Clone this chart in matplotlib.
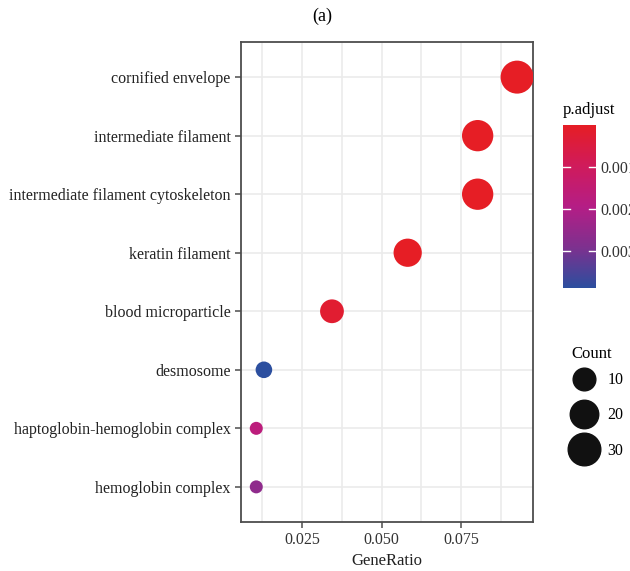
import numpy as np
import matplotlib
matplotlib.use("Agg")
import matplotlib.pyplot as plt
from matplotlib.colors import LinearSegmentedColormap, Normalize
from matplotlib.lines import Line2D

plt.rcParams['font.family'] = ['Liberation Serif', 'DejaVu Serif']

# Datos del dotplot (GO CC)
terminos = ["cornified envelope", "intermediate filament",
            "intermediate filament cytoskeleton", "keratin filament",
            "blood microparticle", "desmosome",
            "haptoglobin-hemoglobin complex", "hemoglobin complex"]
gene_ratio = [0.0926, 0.0802, 0.0802, 0.0582, 0.0344, 0.0130, 0.0106, 0.0106]
conteo = [35, 30, 30, 22, 13, 5, 4, 4]
p_adjust = [1e-7, 1e-6, 1e-6, 1e-5, 0.00022, 0.00388, 0.0017, 0.0026]

ticks_x = [0.025, 0.050, 0.075]
ticks_color = [0.001, 0.002, 0.003]
leyenda_conteo = [10, 20, 30]

cmap = LinearSegmentedColormap.from_list(
    "rojo_azul", ["#E61E25", "#D01B5C", "#B51E86", "#7E318F", "#2C4F9F"])
norm = Normalize(vmin=0.0, vmax=max(p_adjust))


def diametro_px(c):
    # escala de area tipo ggplot: sqrt del conteo reescalado
    cmin, cmax = min(conteo), max(conteo)
    return 13 + 20 * np.sqrt((np.asarray(c, float) - cmin) / (cmax - cmin))


def tam_scatter(c):
    d_pt = diametro_px(c) * 72 / 100.0
    return d_pt ** 2


fig = plt.figure(figsize=(6.30, 5.71), dpi=100)
ax = fig.add_axes([241 / 630, 49 / 571, 292 / 630, 480 / 571])

y = np.arange(len(terminos))[::-1] + 1
ax.scatter(gene_ratio, y, s=tam_scatter(conteo), c=p_adjust, cmap=cmap,
           norm=norm, edgecolors='none', zorder=3)

ax.set_xlim(0.0058, 0.0976)
ax.set_ylim(0.4, len(terminos) + 0.6)
ax.set_yticks(y)
ax.set_yticklabels(terminos, fontsize=11.5, color='#222222')
ax.set_xticks(ticks_x)
ax.set_xticklabels([f"{t:.3f}" for t in ticks_x], fontsize=11.5, color='#333333')
ax.set_xticks([0.0125, 0.0375, 0.0625, 0.0875], minor=True)
ax.tick_params(axis='x', which='minor', length=0)
ax.tick_params(axis='both', which='major', length=4, width=1.1, color='#4D4D4D')
ax.grid(True, which='both', color='#EBEBEB', linewidth=1.2, zorder=0)
ax.set_axisbelow(True)
for s in ax.spines.values():
    s.set_color('#4D4D4D')
    s.set_linewidth(1.3)
ax.set_xlabel("GeneRatio", fontsize=12, color='#222222', labelpad=3)

fig.text(0.511, 1 - 16 / 571, "(a)", ha='center', va='center', fontsize=13)

# Barra de color p.adjust
cax = fig.add_axes([563 / 630, 283 / 571, 33 / 630, 163 / 571])
grad = np.linspace(0, max(p_adjust), 256).reshape(-1, 1)
cax.imshow(grad, aspect='auto', cmap=cmap, norm=norm, origin='upper',
           extent=[0, 1, max(p_adjust), 0])
cax.set_xlim(0, 1)
cax.set_ylim(max(p_adjust), 0)
cax.set_xticks([])
cax.yaxis.tick_right()
cax.set_yticks(ticks_color)
cax.set_yticklabels([f"{t:.3f}" for t in ticks_color], fontsize=11.5, color='#333333')
cax.tick_params(axis='y', length=0, pad=3)
for t in ticks_color:
    cax.plot([0, 0.2], [t, t], color='white', lw=1, zorder=3)
    cax.plot([0.8, 1], [t, t], color='white', lw=1, zorder=3)
for s in cax.spines.values():
    s.set_visible(False)
fig.text(563 / 630, 1 - 110 / 571, "p.adjust", fontsize=12, ha='left', va='center')

# Leyenda de tamaño (Count)
fig.text(571 / 630, 1 - 354 / 571, "Count", fontsize=12, ha='left', va='center')
handles = [Line2D([], [], linestyle='none', marker='o', color='#111111',
                  markersize=float(diametro_px(v)) * 0.75)
           for v in leyenda_conteo]
leg = fig.legend(handles, [str(v) for v in leyenda_conteo],
                 loc='upper left', bbox_to_anchor=(557 / 630, 1 - 361 / 571),
                 frameon=False, fontsize=11.5,
                 labelspacing=1.2, handletextpad=0.45, borderpad=0.2)

fig.savefig("out.png", dpi=100)
